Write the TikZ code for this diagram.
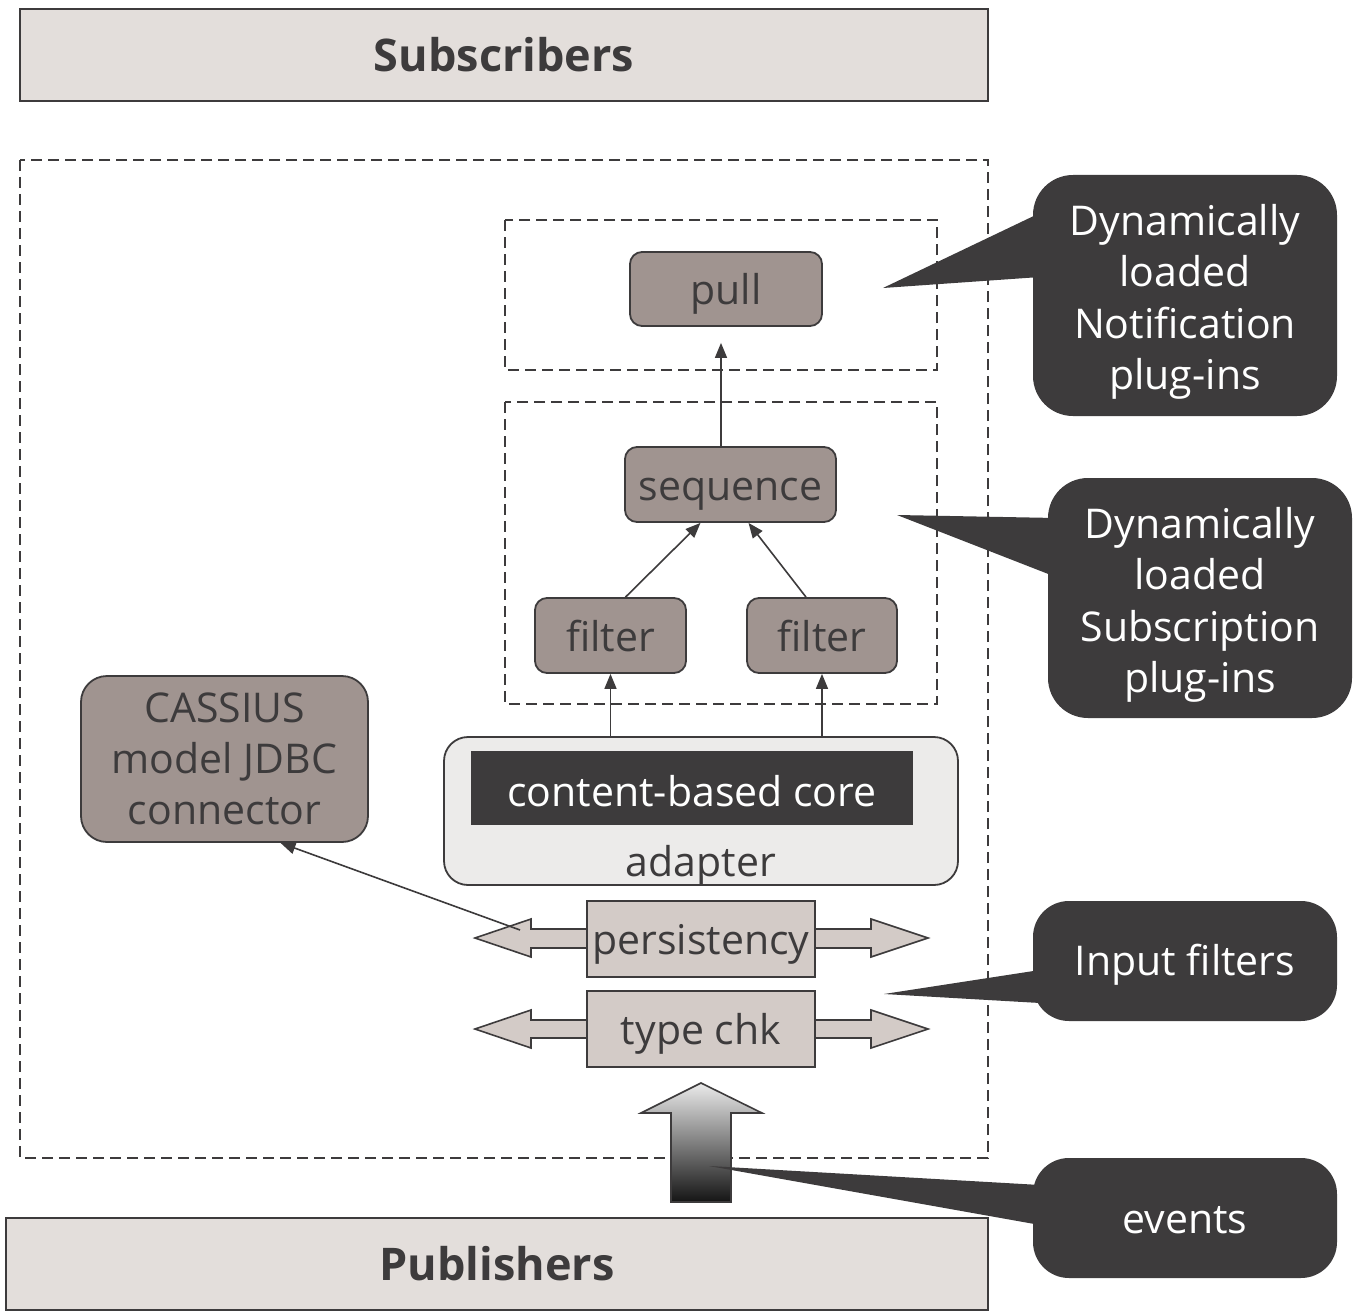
\documentclass[tikz,border=0pt]{standalone}
\usepackage{fontspec}
\setmainfont{Open Sans}
\usetikzlibrary{arrows.meta,shapes.geometric}
\definecolor{ink}{HTML}{3D3B3C}
\definecolor{lightbox}{HTML}{E3DEDB}
\definecolor{plugfill}{HTML}{A09490}
\definecolor{arrowfill}{HTML}{D3CBC7}
\definecolor{adapterfill}{HTML}{ECEBEA}
\tikzset{
  bigbox/.style={draw=ink, line width=2pt, fill=lightbox, minimum width=968pt, minimum height=92pt, inner sep=0pt, font=\fontsize{45}{52}\selectfont\bfseries, text=ink},
  dashbox/.style={draw=ink, line width=1.6pt, dash pattern=on 11pt off 6pt},
  plug/.style={draw=ink, line width=1.8pt, fill=plugfill, rounded corners=12pt, inner sep=0pt, font=\fontsize{41}{48}\selectfont, text=ink, text height=35pt, text depth=4pt},
  filterbox/.style={draw=ink, line width=1.6pt, fill=arrowfill, inner sep=0pt, font=\fontsize{41}{48}\selectfont, text=ink, text height=34pt, text depth=4pt},
  dblarrow/.style={draw=ink, line width=1.6pt, fill=arrowfill},
  conn/.style={draw=ink, line width=1.6pt, -{Triangle[length=15pt,width=12pt]}},
  calloutbg/.style={fill=ink, rounded corners=40pt, inner sep=0pt},
  callouttext/.style={inner sep=0pt, text=white, align=center, font=\fontsize{41}{51.5}\selectfont},
  plainlbl/.style={inner sep=0pt, font=\fontsize{41}{48}\selectfont, text=ink}
}
\begin{document}
\begin{tikzpicture}[x=1pt,y=-1pt]
\useasboundingbox (0,0) rectangle (1353,1311);
\fill[white] (0,0) rectangle (1353,1311);

% top / bottom bars
\node[bigbox] (subs) at (504,55) {Subscribers};
\node[bigbox, minimum width=982pt] (pubs) at (497,1264) {Publishers};

% dashed containers
\draw[dashbox] (20,160) rectangle (988,1158);
\draw[dashbox] (505,220) rectangle (937,370);
\draw[dashbox] (505,402) rectangle (937,704);

% plug-in nodes
\node[plug, minimum width=192pt, minimum height=74pt] (pull) at (726,289) {pull};
\node[plug, minimum width=211pt, minimum height=75pt] (seq) at (730.5,484.5) {sequence};
\node[plug, minimum width=151pt, minimum height=75pt] (f1) at (610.5,635.5) {filter};
\node[plug, minimum width=150pt, minimum height=75pt] (f2) at (822,635.5) {filter};
\node[plug, rounded corners=26pt, minimum width=287pt, minimum height=166pt, align=center, text height=, text depth=, font=\fontsize{41}{51}\selectfont] (cass) at (224.5,759) {CASSIUS\\ model JDBC\\ connector};

% adapter and core
\node[draw=ink, line width=1.8pt, fill=adapterfill, rounded corners=24pt, minimum width=514pt, minimum height=148pt, inner sep=0pt] (adapter) at (701,811) {};
\node[fill=ink, minimum width=442pt, minimum height=74pt, inner sep=0pt, text=white, font=\fontsize{41}{48}\selectfont, text height=38pt, text depth=2pt] (core) at (692,788) {content-based core};
\node[plainlbl, anchor=base] (adlbl) at (701,876) {adapter};

% double arrows (input filters)
\draw[dblarrow] (475,938) -- (531,919) -- (531,929) -- (871,929) -- (871,919) -- (928,938) -- (871,957) -- (871,948) -- (531,948) -- (531,957) -- cycle;
\node[filterbox, minimum width=228pt, minimum height=76pt] (pers) at (701,939) {persistency};
\draw[dblarrow] (475,1029) -- (531,1010) -- (531,1020) -- (871,1020) -- (871,1010) -- (928,1029) -- (871,1048) -- (871,1038) -- (531,1038) -- (531,1048) -- cycle;
\node[filterbox, minimum width=228pt, minimum height=76pt] (tchk) at (701,1029) {type chk};

% events arrow
\shade[top color=black!8, bottom color=black!92, draw=ink, line width=1.6pt]
  (671,1202) -- (671,1113) -- (641,1113) -- (701,1083) -- (762,1113) -- (731,1113) -- (731,1202) -- cycle;

% connectors
\draw[conn] (f1.south |- adapter.north) -- (f1.south);
\draw[conn] (f2.south |- adapter.north) -- (f2.south);
\draw[conn] ([xshift=15pt]f1.north) -- ([xshift=-30pt]seq.south);
\draw[conn] ([xshift=-16pt]f2.north) -- ([xshift=18pt]seq.south);
\draw[conn, shorten >=16pt] ([xshift=-9.5pt]seq.north) -- ([xshift=-5pt]pull.south);
\coordinate (pstart) at (520,930);
\draw[conn] (pstart) -- ([xshift=56pt]cass.south);

% callouts
\coordinate (tipN) at (883,288);
\coordinate (tipS) at (897,515);
\coordinate (tipI) at (884,994);
\coordinate (tipE) at (709,1166);
\node[calloutbg, minimum width=304pt, minimum height=241pt] (calN) at (1185,295.5) {};
\fill[ink] (tipN) -- (1040,213) -- (1040,277) -- cycle;
\node[callouttext] (calNt) at ([yshift=-6.5pt]calN.center) {Dynamically\\ loaded\\ Notification\\ plug-ins};
\node[calloutbg, minimum width=304pt, minimum height=240pt] (calS) at (1200,598) {};
\fill[ink] (tipS) -- (1056,518) -- (1056,577) -- cycle;
\node[callouttext] (calSt) at ([yshift=-7pt]calS.center) {Dynamically\\ loaded\\ Subscription\\ plug-ins};
\node[calloutbg, rounded corners=36pt, minimum width=304pt, minimum height=120pt] (calI) at (1185,961) {};
\fill[ink] (tipI) -- (1040,970) -- (1040,1003) -- cycle;
\node[callouttext] (calIt) at ([yshift=-4pt]calI.center) {Input filters};
\node[calloutbg, rounded corners=36pt, minimum width=304pt, minimum height=120pt] (calE) at (1185,1218) {};
\fill[ink] (tipE) -- (1040,1185) -- (1040,1225) -- cycle;
\node[callouttext] (calEt) at ([yshift=-2pt]calE.center) {events};
\end{tikzpicture}
\end{document}
